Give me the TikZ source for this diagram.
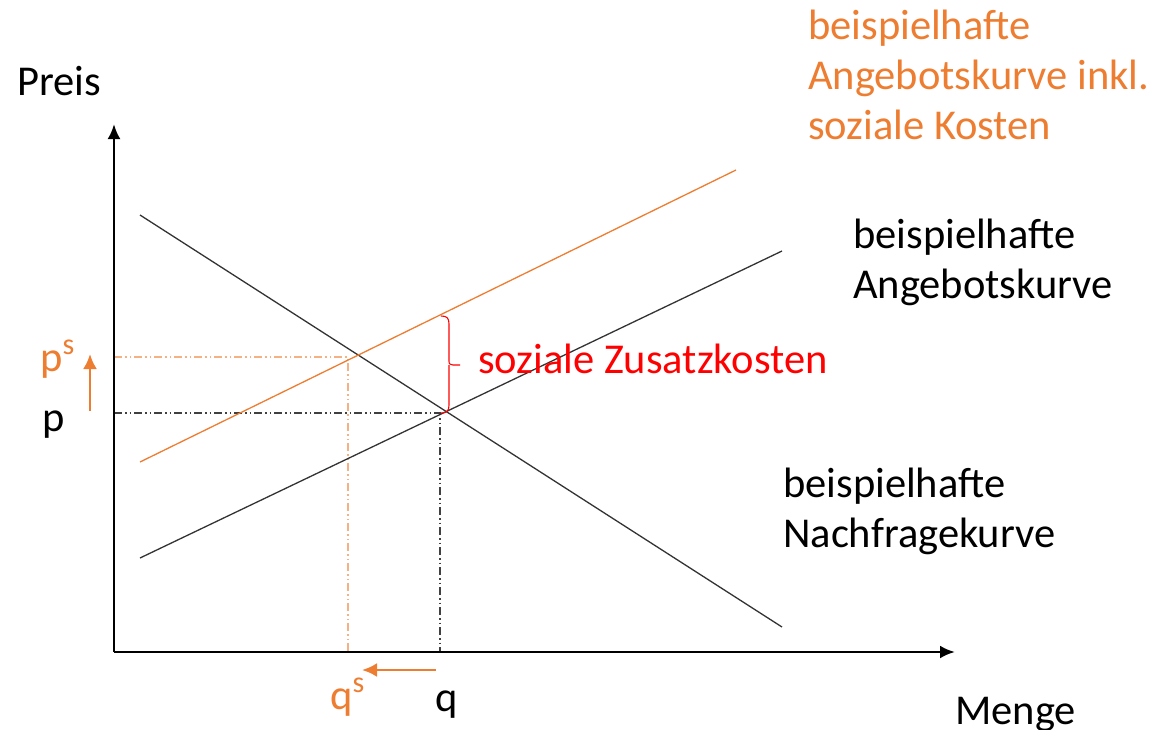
\documentclass[tikz,border=0pt]{standalone}
\usepackage{fontspec}
\setmainfont{Carlito}
\usetikzlibrary{arrows.meta}
\definecolor{off}{HTML}{ED7D31}
\definecolor{offlight}{HTML}{F4B183}
\definecolor{zred}{HTML}{FF0000}
\tikzset{
  axis/.style={line width=2.8pt,-{Latex[length=15pt,width=13pt]}},
  curve/.style={line width=1.3pt},
  dd/.style={line width=1.1pt,dash pattern=on 8pt off 3pt on 1.5pt off 3pt on 1.5pt off 3pt},
  shiftarrow/.style={off,line width=2.6pt,-{Latex[length=15pt,width=14pt]}},
  lbl/.style={inner sep=0pt,anchor=base west,font=\fontsize{42.5}{50}\selectfont,align=left},
}
\newcommand{\supS}{\raisebox{0.4em}{\fontsize{30}{34}\selectfont s}}
\begin{document}
\begin{tikzpicture}[x=1pt,y=-1pt]
\useasboundingbox (0,0) rectangle (1149,729);
% coordinates
\coordinate (O) at (114,652);
\coordinate (Ytop) at (114,124);
\coordinate (Xend) at (955,652);
\coordinate (D1) at (140,215);
\coordinate (D2) at (782,627);
\coordinate (S1) at (140,558);
\coordinate (S2) at (782,251);
\coordinate (T1) at (140,462);
\coordinate (T2) at (736,170);
\coordinate (Pax) at (114,413);
\coordinate (E) at (440,413);
\coordinate (Qax) at (440,652);
\coordinate (Psax) at (114,357);
\coordinate (Es) at (348,357);
\coordinate (Qsax) at (348,652);
\coordinate (Bt) at (441,316);
\coordinate (Bb) at (441,413);
\coordinate (Bm) at (460,365);
\coordinate (PA1) at (90,411);
\coordinate (PA2) at (90,354);
\coordinate (QA1) at (436,670);
\coordinate (QA2) at (362,670);
% dashed guides
\draw[dd,offlight] (Psax) -- (Es) -- (Qsax);
\draw[dd,black!75] (Pax) -- (E) -- (Qax);
% curves
\draw[curve,black!80] (D1) -- (D2);
\draw[curve,black!80] (S1) -- (S2);
\draw[curve,off] (T1) -- (T2);
% brace
\draw[zred,line width=1.1pt] (Bt) .. controls (447,316) and (449,318) .. (449,324)
  -- (449,360) .. controls (449,364) .. (453,365) -- (Bm)
  (449,365) .. controls (449,366) .. (449,370) -- (449,405)
  .. controls (449,411) and (447,413) .. (Bb);
% axes
\draw[axis] (O) -- (Ytop);
\draw[axis] (O) -- (Xend);
% shift arrows
\draw[shiftarrow] (PA1) -- (PA2);
\draw[shiftarrow] (QA1) -- (QA2);
% labels
\node[lbl] (preis) at (17,95) {Preis};
\node[lbl] (menge) at (955,724) {Menge};
\node[lbl] (p) at (42,431) {p};
\node[lbl,off] (ps) at (40,371) {p\supS};
\node[lbl] (q) at (435,711) {q};
\node[lbl,off] (qs) at (330,709) {q\supS};
\node[lbl,zred] (zk) at (478,373) {soziale Zusatzkosten};
\node[lbl,off] (ak1) at (808,139) {beispielhafte\\Angebotskurve inkl.\\soziale Kosten};
\node[lbl] (ak2) at (853,298) {beispielhafte\\Angebotskurve};
\node[lbl] (nk) at (783,547) {beispielhafte\\Nachfragekurve};
\end{tikzpicture}
\end{document}
